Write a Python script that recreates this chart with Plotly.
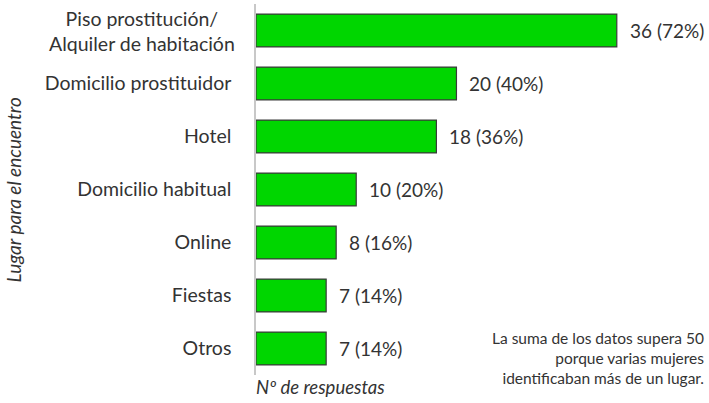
import plotly.graph_objects as go

categories = ["Piso prostitución/<br>Alquiler de habitación", "Domicilio prostituidor", "Hotel",
              "Domicilio habitual", "Online", "Fiestas", "Otros"]
values = [36, 20, 18, 10, 8, 7, 7]
total_women = 50
value_labels = [f"{v} ({round(v / total_women * 100)}%)" for v in values]

y_title = "Lugar para el encuentro"
x_title = "Nº de respuestas"
note = "La suma de los datos supera 50<br>porque varias mujeres<br>identificaban más de un lugar."

FONT = "Lato, 'Open Sans', sans-serif"
TXT = "#333333"

fig = go.Figure(go.Bar(
    x=values, y=categories, orientation="h",
    marker=dict(color="#00D600", line=dict(color="#3a3a3a", width=1.2)),
    width=0.62,
))

# value labels
for c, v, t in zip(categories, values, value_labels):
    fig.add_annotation(x=v, y=c, xref="x", yref="y", text=t, showarrow=False,
                       xanchor="left", xshift=11, font=dict(size=19, color=TXT, family=FONT))

# multi-line first category label, centred lines
fig.add_annotation(x=0, y=categories[0], xref="x", yref="y", text=categories[0],
                   showarrow=False, xanchor="right", xshift=-19, align="center",
                   font=dict(size=19.5, color=TXT, family=FONT))

fig.add_annotation(x=-0.538, y=0.5, xref="paper", yref="paper", text=y_title, textangle=-90,
                   showarrow=False, xanchor="center", yanchor="middle",
                   font=dict(size=19, color=TXT, family=FONT, style="italic"))
fig.add_annotation(x=0.144, y=-0.032, xref="paper", yref="paper", text=x_title,
                   showarrow=False, xanchor="center", yanchor="middle",
                   font=dict(size=18.5, color=TXT, family=FONT, style="italic"))
fig.add_annotation(x=1.0, y=-0.038, xref="paper", yref="paper", text=note, align="right",
                   showarrow=False, xanchor="right", yanchor="bottom",
                   font=dict(size=15.5, color=TXT, family=FONT))

ticktext = [""] + categories[1:]
fig.update_layout(
    width=709, height=403,
    margin=dict(l=256, r=3, t=4, b=28),
    paper_bgcolor="white", plot_bgcolor="white",
    showlegend=False,
    font=dict(family=FONT, color=TXT),
    xaxis=dict(range=[0, 44.9], showgrid=False, showticklabels=False, zeroline=False,
               showline=False, ticks=""),
    yaxis=dict(categoryorder="array", categoryarray=categories, autorange="reversed",
               range=[6.5, -0.5], tickvals=categories, ticktext=ticktext,
               showgrid=False, zeroline=False, showline=True, linecolor="#c8c8c8", linewidth=1.5,
               ticks="", ticklabelstandoff=19, tickfont=dict(size=19.5, color=TXT, family=FONT)),
)

fig.write_html("out.html", config={"displayModeBar": False},
               post_script="document.body.style.margin='0';document.body.style.overflow='hidden';")
